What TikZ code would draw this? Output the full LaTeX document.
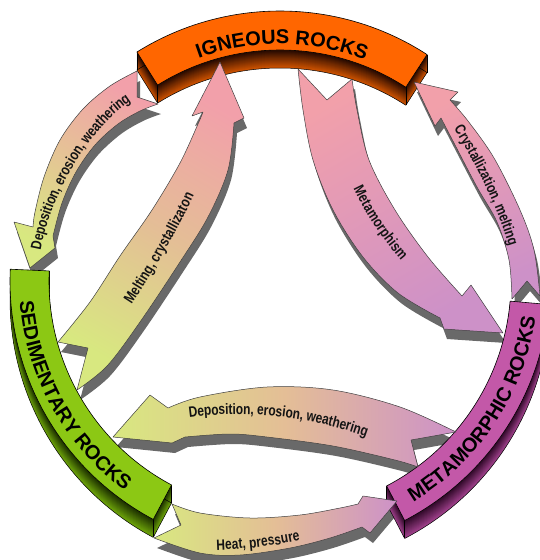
\documentclass[tikz,border=0pt]{standalone}
\usepackage{fontspec}
\setmainfont{Liberation Sans}
\newfontfamily\lblfont{Liberation Sans}[FakeStretch=0.8]
\usetikzlibrary{decorations.text}
\definecolor{igF}{RGB}{255,102,0}
\definecolor{igN}{RGB}{40,10,0}
\definecolor{igB}{RGB}{205,82,0}
\definecolor{sdF}{RGB}{140,200,20}
\definecolor{sdN}{RGB}{30,50,0}
\definecolor{sdB}{RGB}{110,165,10}
\definecolor{mtF}{RGB}{195,88,168}
\definecolor{mtN}{RGB}{50,10,42}
\definecolor{mtB}{RGB}{160,65,140}
\definecolor{aP}{RGB}{242,160,170}
\definecolor{aL}{RGB}{205,145,200}
\definecolor{aG}{RGB}{216,232,128}
\definecolor{aT}{RGB}{228,190,150}
\definecolor{shd}{RGB}{105,105,105}
\definecolor{lbl}{RGB}{20,20,20}
\newcommand\bandshape[2]{(#1:231) arc[start angle=#1,end angle=#2,radius=231] -- (#2:270) arc[start angle=#2,end angle=#1,radius=270] -- cycle}
\newcommand\rockbanner[5]{%
  \begin{scope}[shift={(280,281)}]
    \foreach \k in {18,...,1}{%
      \pgfmathtruncatemacro\mixv{100*(\k-1)/17}%
      \fill[#5!\mixv!#4, shift={(0,\k)}] \bandshape{#1}{#2};
    }
    \draw[black, line width=0.5pt, shift={(0,18)}] \bandshape{#1}{#2};
    \draw[black, line width=0.5pt] (#1:231) -- ++(0,18) (#1:270) -- ++(0,18)
       (#2:231) -- ++(0,18) (#2:270) -- ++(0,18);
    \filldraw[fill=#3, draw=black, line width=0.6pt] \bandshape{#1}{#2};
  \end{scope}}
\tikzset{
  bigarrow/.style={draw=black!75, line width=0.5pt},
  arrshadow/.style={fill=shd, shift={(3,10)}},
  bannertext/.style={decorate, decoration={text along path, text align=center,
      text={|\bfseries\fontsize{20}{24}\selectfont|#1}}},
  arrowtext/.style={decorate, decoration={text along path, text align=center, raise=-5.5pt,
      text={|\lblfont\bfseries\color{lbl}\fontsize{15}{18}\selectfont|#1}}}
}
\begin{document}
\begin{tikzpicture}[x=1pt,y=-1pt,line join=round]
\useasboundingbox (0,0) rectangle (539,560);
\def\arrA{plot[smooth,tension=0.55] coordinates {(137,71) (110,86) (83,109) (60,140) (44,177) (35,212) (33,227)} -- (14,222) -- (30,268) -- (55,248) -- (53,236) -- plot[smooth,tension=0.55] coordinates {(53,236) (62,203) (76,172) (95,145) (118,124) (140,111) (158,104)} -- (137,97) -- cycle}
\def\arrB{plot[smooth,tension=0.55] coordinates {(58,342) (90,302) (120,256) (152,210) (180,163) (198,124) (203,112)} -- (192,116) -- (220,62) -- (244,118) -- (234,123) -- plot[smooth,tension=0.55] coordinates {(234,123) (228,170) (208,217) (180,262) (140,322) (107,366) (77,390)} -- (88,348) -- cycle}
\def\arrC{plot[smooth,tension=0.55] coordinates {(298,69) (303,110) (313,160) (333,210) (363,257) (398,293) (440,318)} -- (444,329) -- (503,333) -- (471,285) -- (462,296) -- plot[smooth,tension=0.55] coordinates {(462,296) (428,257) (395,210) (369,160) (357,110) (352,79)} -- (327,100) -- cycle}
\def\arrD{plot[smooth,tension=0.55] coordinates {(540,296) (534,250) (520,210) (494,158) (468,121) (450,100)} -- (458,92) -- (414,82) -- (435,126) -- (441,118) -- plot[smooth,tension=0.55] coordinates {(441,118) (454,143) (477,187) (497,222) (509,260) (512,299)} -- (527,281) -- cycle}
\def\arrE{plot[smooth,tension=0.55] coordinates {(456,432) (400,407) (333,390) (267,387) (200,397) (168,408)} -- (150,395) -- (113,437) -- (172,443) -- (185,437) -- plot[smooth,tension=0.55] coordinates {(185,437) (230,434) (267,437) (333,446) (395,460) (418,467)} -- (411,440) -- cycle}
\def\arrF{plot[smooth,tension=0.55] coordinates {(172,504) (200,513) (250,518) (300,515) (340,508) (358,504)} -- (363,496) -- (397,501) -- (370,533) -- (362,527) -- plot[smooth,tension=0.55] coordinates {(362,527) (330,538) (290,548) (240,555) (200,553) (154,538)} -- (181,525) -- cycle}
% shadows
\fill[arrshadow] \arrA;
\fill[arrshadow] \arrB;
\fill[arrshadow] \arrC;
\fill[arrshadow] \arrD;
\fill[arrshadow] \arrE;
\fill[arrshadow] \arrF;
% banners
\rockbanner{-122}{-57}{igF}{igN}{igB}
\rockbanner{182.5}{118}{sdF}{sdN}{sdB}
\rockbanner{5}{62.5}{mtF}{mtN}{mtB}
\begin{scope}[shift={(280,281)}]
\path[bannertext={IGNEOUS ROCKS}] (-119.5:237) arc[start angle=-119.5,end angle=-59.5,radius=237];
\path[bannertext={SEDIMENTARY ROCKS}] (181:261) arc[start angle=181,end angle=121,radius=261];
\path[bannertext={METAMORPHIC ROCKS}] (64:258) arc[start angle=64,end angle=3,radius=258];
\end{scope}
% arrows
\path[bigarrow, top color=aP, bottom color=aG, shading angle=-30] \arrA;
\path[bigarrow, top color=aP, bottom color=aG, middle color=aT, shading angle=-30] \arrB;
\path[bigarrow, top color=aP, bottom color=aL, shading angle=30] \arrC;
\path[bigarrow, top color=aP, bottom color=aL, shading angle=25] \arrD;
\path[bigarrow, left color=aG, right color=aL, middle color=aT] \arrE;
\path[bigarrow, left color=aG, right color=aL, middle color=aT] \arrF;
% labels
\path[arrowtext={Deposition, erosion, weathering}] (33,265) .. controls (38,205) and (85,115) .. (142,89);
\path[arrowtext={Melting, crystallizaton}] (100,340) .. controls (135,295) and (185,210) .. (208,150);
\path[arrowtext={Metamorphism}] (345,150) .. controls (358,200) and (395,250) .. (432,285);
\path[arrowtext={Crystallization, melting}] (447,108) .. controls (475,150) and (505,205) .. (520,265);
\path[arrowtext={Deposition, erosion, weathering}] (160,417) .. controls (240,400) and (320,410) .. (395,442);
\path[arrowtext={Heat, pressure}] (195,545) .. controls (240,545) and (285,540) .. (320,530);
\end{tikzpicture}
\end{document}
